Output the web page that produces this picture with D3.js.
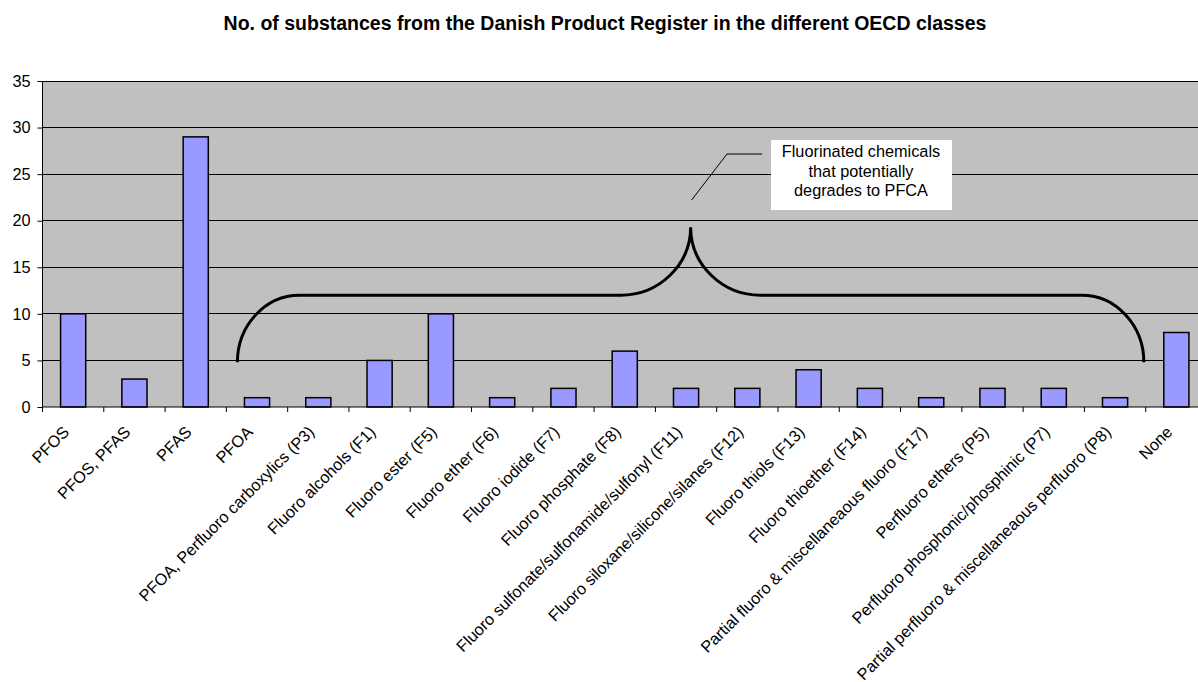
<!DOCTYPE html>
<html><head><meta charset="utf-8">
<script src="https://cdn.jsdelivr.net/npm/d3@7"></script>
<style>body{margin:0;background:#fff}svg{display:block}text{font-family:Arial,"Liberation Sans",sans-serif}</style>
</head><body>
<svg id="c" width="1198" height="682"></svg>
<script>
const categories = ["PFOS","PFOS, PFAS","PFAS","PFOA","PFOA, Perfluoro carboxylics (P3)","Fluoro alcohols (F1)","Fluoro ester (F5)","Fluoro ether (F6)","Fluoro iodide (F7)","Fluoro phosphate (F8)","Fluoro sulfonate/sulfonamide/sulfonyl (F11)","Fluoro siloxane/silicone/silanes (F12)","Fluoro thiols (F13)","Fluoro thioether (F14)","Partial fluoro & miscellaneaous fluoro (F17)","Perfluoro ethers (P5)","Perfluoro phosphonic/phosphinic (P7)","Partial perfluoro & miscellaneaous perfluoro (P8)","None"];
const values = [10,3,29,1,1,5,10,1,2,6,2,2,4,2,1,2,2,1,8];
const yTicks = [0,5,10,15,20,25,30,35];
const title = "No. of substances from the Danish Product Register in the different OECD classes";
const calloutLines = ["Fluorinated chemicals","that potentially","degrades to PFCA"];
const braceFirst = "PFOA", braceLast = "Partial perfluoro & miscellaneaous perfluoro (P8)";

const FS = 16.3;
const svg = d3.select("#c");
const L = 42.5, R = 1207, T = 81, B = 407;
const x = d3.scaleBand().domain(categories).range([L, R]).paddingInner(0.59).paddingOuter(0.295);
const y = d3.scaleLinear().domain([0, 35]).range([B, T]);
const step = x.step();

svg.append("text").attr("x", 605).attr("y", 30).attr("text-anchor", "middle")
  .attr("font-size", 19.5).attr("font-weight", "bold").text(title);

svg.append("rect").attr("x", L).attr("y", T).attr("width", R - L).attr("height", B - T).attr("fill", "#c0c0c0");

// gridlines
svg.append("g").selectAll("line").data(yTicks.filter(d => d > 0)).join("line")
  .attr("x1", L).attr("x2", R).attr("y1", d => y(d)).attr("y2", d => y(d))
  .attr("stroke", "#000").attr("stroke-width", 1).attr("shape-rendering", "crispEdges");

// bars
svg.append("g").selectAll("rect").data(categories).join("rect")
  .attr("x", d => x(d)).attr("width", x.bandwidth())
  .attr("y", (d, i) => y(values[i])).attr("height", (d, i) => B - y(values[i]))
  .attr("fill", "#9999ff").attr("stroke", "#000").attr("stroke-width", 1.5);

// y axis
const ya = svg.append("g").attr("transform", `translate(${L},0)`)
  .call(d3.axisLeft(y).tickValues(yTicks).tickSize(5).tickPadding(7).tickFormat(d3.format("d")));
ya.select(".domain").attr("stroke", "#000").attr("d", `M0,${T}V${B}`);
ya.selectAll("text").attr("font-size", FS).attr("font-family", "Arial, Liberation Sans, sans-serif").attr("fill", "#000");

// x axis: ticks at band boundaries
const xa = svg.append("g");
xa.append("line").attr("x1", L).attr("x2", R).attr("y1", B).attr("y2", B).attr("stroke", "#000").attr("stroke-width", 1.2);
xa.selectAll("line.t").data(d3.range(categories.length + 1)).join("line").attr("class", "t")
  .attr("x1", i => L + i * step).attr("x2", i => L + i * step).attr("y1", B).attr("y2", B + 5)
  .attr("stroke", "#000");
xa.selectAll("text").data(categories).join("text")
  .attr("transform", d => `translate(${x(d) + x.bandwidth() / 2 - 3},${B + 26}) rotate(-45)`)
  .attr("text-anchor", "end").attr("font-size", FS).text(d => d);

// brace annotation
const xl = x(braceFirst) - step * 0.295 + step * 0.18;
const xr = x(braceLast) + x.bandwidth() + step * 0.295 - step * 0.03;
const xm = (xl + xr) / 2;
const yEnd = y(4.8), yMid = y(12), yPeak = y(19.3);
const rOut = 62, rIn = 70;
const p = d3.path();
p.moveTo(xl, yEnd);
p.bezierCurveTo(xl, yEnd - (yEnd - yMid) * 0.55, xl + rOut * 0.45, yMid, xl + rOut, yMid);
p.lineTo(xm - rIn, yMid);
p.bezierCurveTo(xm - rIn * 0.45, yMid, xm, yMid - (yMid - yPeak) * 0.45, xm, yPeak);
p.bezierCurveTo(xm, yMid - (yMid - yPeak) * 0.45, xm + rIn * 0.45, yMid, xm + rIn, yMid);
p.lineTo(xr - rOut, yMid);
p.bezierCurveTo(xr - rOut * 0.45, yMid, xr, yEnd - (yEnd - yMid) * 0.55, xr, yEnd);
svg.append("path").attr("d", p.toString()).attr("fill", "none").attr("stroke", "#000").attr("stroke-width", 3);

// callout
svg.append("path").attr("d", `M${xm + 1},200L727,154H762`).attr("fill", "none").attr("stroke", "#000").attr("stroke-width", 1);
svg.append("rect").attr("x", 771).attr("y", 140).attr("width", 181).attr("height", 70).attr("fill", "#fff");
svg.append("text").attr("x", 861).attr("font-size", FS).attr("text-anchor", "middle")
  .selectAll("tspan").data(calloutLines).join("tspan")
  .attr("x", 861).attr("y", (d, i) => 157 + i * 19.5).text(d => d);
</script>
</body></html>
